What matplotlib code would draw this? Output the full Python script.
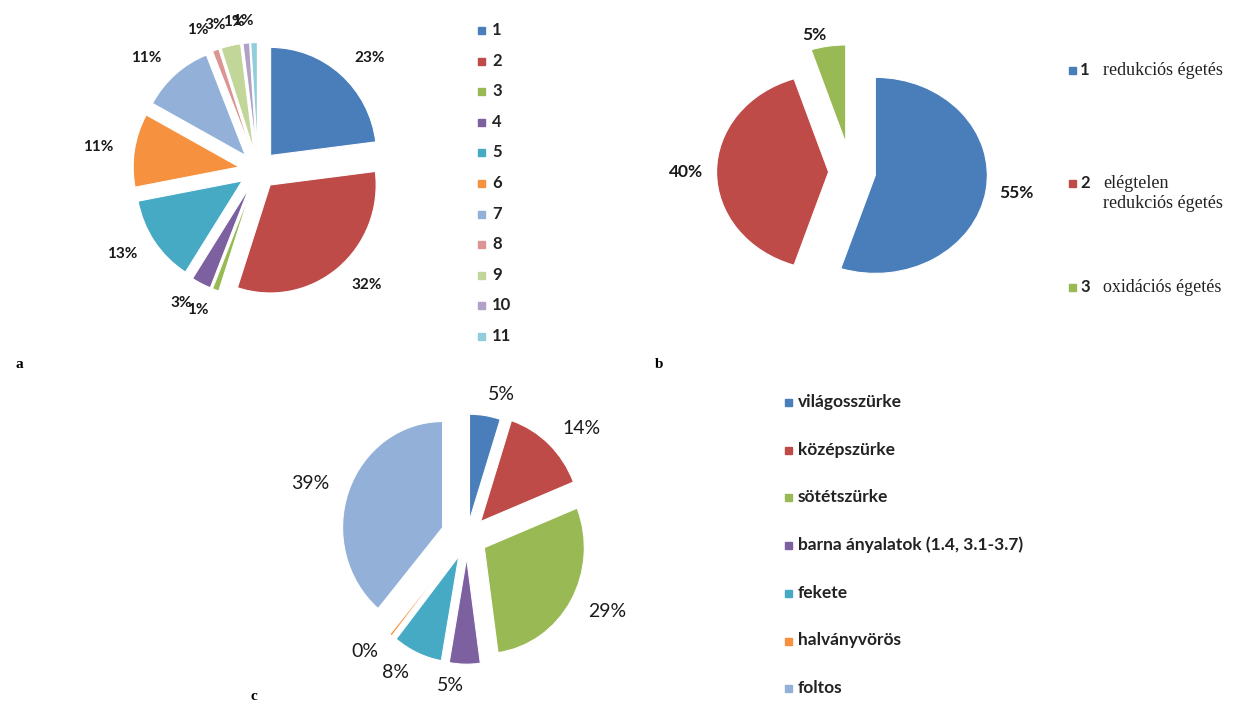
import numpy as np
import matplotlib
matplotlib.use("Agg")
import matplotlib.pyplot as plt
from matplotlib.patches import Rectangle

W, H = 1236, 702

# chart a
a_names = ["1", "2", "3", "4", "5", "6", "7", "8", "9", "10", "11"]
a_values = [23, 32, 1, 3, 13, 11, 11, 1, 3, 1, 1]
# chart b
b_nums = ["1", "2", "3"]
b_names = ["redukciós égetés", "elégtelen\nredukciós égetés", "oxidációs égetés"]
b_values = [55, 40, 5]
# chart c
c_names = ["világosszürke", "középszürke", "sötétszürke", "barna ányalatok (1.4, 3.1-3.7)",
           "fekete", "halványvörös", "foltos"]
c_values = [5, 14, 29, 5, 8, 0.4, 39]

colors = ["#4a7ebb", "#be4b48", "#98b954", "#7d60a0", "#46aac5", "#f6913f",
          "#93b1d8", "#db9593", "#c2d69a", "#b2a1c7", "#92cddc"]

sans = "Lato"
serif = "Liberation Serif"

fig = plt.figure(figsize=(W / 100, H / 100), dpi=100)


def pie_axes(cx, cy, rx, ry, lim=1.6):
    w = 2 * lim * rx
    h = 2 * lim * ry
    ax = fig.add_axes([(cx - w / 2) / W, 1 - (cy + h / 2) / H, w / W, h / H])
    return ax, lim


def draw_pie(ax, lim, values, explode, ldist, fsize, weight="normal"):
    labels = [f"{round(v)}%" for v in values]
    ax.pie(values, explode=explode, labels=labels, colors=colors[:len(values)],
           startangle=90, counterclock=False, labeldistance=ldist,
           wedgeprops=dict(edgecolor="white", linewidth=0.8),
           textprops=dict(fontsize=fsize, family=sans, color="#1a1a1a",
                          fontweight=weight))
    ax.set_aspect("auto")
    ax.set_xlim(-lim, lim)
    ax.set_ylim(-lim, lim)
    ax.axis("off")


def px(x, y):
    return x / W, 1 - y / H


# --- a ---
ax, lim = pie_axes(258, 170, 106, 108)
draw_pie(ax, lim, a_values, [0.18] * len(a_values), 1.2, 11, "bold")
for i, name in enumerate(a_names):
    y = 30 + 30.6 * i
    fig.add_artist(Rectangle(px(478, y + 4), 7 / W, 7 / H, color=colors[i],
                             transform=fig.transFigure))
    fig.text(*px(492, y), name, fontsize=12, fontweight="bold", family=sans,
             color="#222222", va="center")
fig.text(*px(15, 365), "a", fontsize=11, fontweight="bold", family=serif, va="center")

# --- b ---
ax, lim = pie_axes(851, 172, 112, 98)
draw_pie(ax, lim, b_values, [0.22, 0.2, 0.3], 1.12, 12.5, "bold")
b_rows = [70, 183, 287]
for i, (num, name) in enumerate(zip(b_nums, b_names)):
    y = b_rows[i]
    fig.add_artist(Rectangle(px(1069, y + 4), 7 / W, 7 / H, color=colors[i],
                             transform=fig.transFigure))
    fig.text(*px(1080, y), num, fontsize=12, fontweight="bold", family=sans,
             color="#222222", va="center")
    fig.text(*px(1103, y - 8), name, fontsize=13, family=serif, color="#222222",
             va="top", linespacing=1.25)
fig.text(*px(655, 365), "b", fontsize=11, fontweight="bold", family=serif, va="center")

# --- c ---
ax, lim = pie_axes(467, 537, 100, 106)
draw_pie(ax, lim, c_values, [0.16, 0.2, 0.2, 0.2, 0.2, 0.2, 0.26], 1.2, 14)
for i, name in enumerate(c_names):
    y = 402 + 47.7 * i
    fig.add_artist(Rectangle(px(785, y + 4), 7 / W, 7 / H, color=colors[i],
                             transform=fig.transFigure))
    fig.text(*px(798, y), name, fontsize=12.5, fontweight="bold", family=sans,
             color="#222222", va="center")
fig.text(*px(250, 697), "c", fontsize=11, fontweight="bold", family=serif, va="center")

fig.savefig("out.png", dpi=100, facecolor="white")
